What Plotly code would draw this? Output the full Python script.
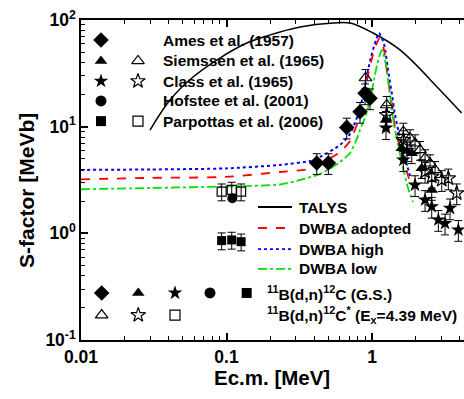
import numpy as np
import plotly.graph_objects as go

# ---------------- data ----------------
talys_E = [0.0298, 0.0409, 0.0589, 0.090, 0.138, 0.190, 0.320, 0.540, 0.706, 1.016, 1.556, 2.93, 4.13]
talys_S = [9.3, 17.8, 29.2, 44.0, 60.8, 71.0, 86.0, 93.7, 93.7, 75.5, 52.4, 22.1, 13.4]

adopt_E = [0.01, 0.0298, 0.099, 0.233, 0.375, 0.439, 0.603, 0.706, 0.801, 0.854, 0.924, 0.984, 1.065, 1.135,
           1.209, 1.288, 1.373, 1.439, 1.557, 1.686, 1.825]
adopt_S = [3.21, 3.31, 3.38, 3.76, 4.02, 4.47, 5.79, 7.35, 11.1, 15.6, 27.4, 40.4, 58.4, 67.8,
           52.4, 27.4, 16.0, 9.73, 6.31, 4.29, 3.03]

high_E = [0.01, 0.0298, 0.099, 0.233, 0.375, 0.439, 0.603, 0.706, 0.801, 0.854, 0.924, 0.984, 1.065, 1.117,
          1.209, 1.288, 1.373, 1.439, 1.557, 1.686, 1.825]
high_S = [3.93, 3.97, 4.06, 4.38, 4.77, 5.20, 6.74, 8.55, 12.9, 17.8, 30.5, 45.0, 64.9, 75.5,
          59.6, 34.0, 19.8, 12.9, 7.83, 5.08, 3.45]

low_E = [0.01, 0.0298, 0.099, 0.233, 0.320, 0.439, 0.603, 0.706, 0.776, 0.827, 0.909, 0.969, 1.032, 1.082,
         1.135, 1.171, 1.228, 1.288, 1.329, 1.394, 1.485, 1.634, 1.768, 1.913]
low_S = [2.59, 2.66, 2.75, 2.87, 3.17, 3.60, 4.67, 5.67, 7.35, 9.31, 12.9, 17.8, 27.4, 37.9,
         48.0, 52.4, 42.2, 27.4, 19.8, 12.1, 7.51, 4.11, 2.66, 1.97]

ames_E = [0.417, 0.501, 0.670, 0.827, 0.895, 0.969]
ames_S = [4.57, 4.57, 9.84, 13.8, 20.6, 18.5]

siem_gs_E = [1.248, 1.600, 1.74, 1.875, 2.196, 2.572]
siem_gs_S = [11.56, 6.28, 5.9, 5.63, 4.08, 2.55]
siem_ex_E = [0.902, 1.262, 1.641, 1.825, 1.975, 2.138, 2.314, 2.504, 2.710]
siem_ex_S = [28.6, 15.97, 8.98, 7.79, 6.99, 6.05, 5.06, 4.54, 3.93]

class_gs_E = [1.248, 1.641, 1.975, 2.314, 2.572, 2.856, 3.175, 3.436, 3.919]
class_gs_S = [9.72, 4.87, 2.84, 2.06, 1.78, 1.34, 1.24, 1.72, 1.08]
class_ex_E = [1.262, 1.641, 2.314, 2.572, 3.013, 3.345, 3.820]
class_ex_S = [12.9, 7.51, 3.79, 3.40, 3.17, 3.28, 2.38]

hof_E = [0.1096]
hof_S = [2.13]

parp_gs_E = [0.0926, 0.1086, 0.126]
parp_gs_S = [0.855, 0.867, 0.835]
parp_ex_E = [0.0926, 0.1086, 0.126]
parp_ex_S = [2.46, 2.55, 2.46]

rel_err = {"ames": 0.22, "siem": 0.2, "class": 0.22, "parp": 0.18}

ref_names = ["Ames et al. (1957)", "Siemssen et al. (1965)", "Class et al. (1965)",
             "Hofstee et al. (2001)", "Parpottas et al. (2006)"]
curve_names = ["TALYS", "DWBA adopted", "DWBA high", "DWBA low"]

x_tickvals = [0.01, 0.1, 1]
x_ticktext = ["0.01", "0.1", "1"]
y_tickvals = [0.1, 1, 10, 100]
y_ticktext = ["10<sup>-1</sup>", "10<sup>0</sup>", "10<sup>1</sup>", "10<sup>2</sup>"]

# ---------------- figure ----------------
fig = go.Figure()

def err(S, r):
    S = np.asarray(S)
    return dict(type="data", array=S * r, arrayminus=S * r, color="black", thickness=1, width=4)

lw = 1.8
fig.add_trace(go.Scatter(x=talys_E, y=talys_S, mode="lines", line=dict(color="black", width=1.5, shape="spline")))
fig.add_trace(go.Scatter(x=high_E, y=high_S, mode="lines", line=dict(color="#0000FF", width=2, dash="dot", shape="spline", smoothing=0.6)))
fig.add_trace(go.Scatter(x=adopt_E, y=adopt_S, mode="lines", line=dict(color="#FF0000", width=lw, dash="dash", shape="spline", smoothing=0.6)))
fig.add_trace(go.Scatter(x=low_E, y=low_S, mode="lines", line=dict(color="#00E000", width=lw, dash="dashdot", shape="spline", smoothing=0.6)))

def pts(E, S, sym, size, r, open_=False):
    mk = dict(symbol=sym, size=size, color="black")
    if open_:
        mk["line"] = dict(color="black", width=1.2)
    fig.add_trace(go.Scatter(x=E, y=S, mode="markers", marker=mk, error_y=err(S, r)))

pts(ames_E, ames_S, "diamond", 12, rel_err["ames"])
pts(siem_ex_E, siem_ex_S, "triangle-up-open", 11, rel_err["siem"], True)
pts(class_ex_E, class_ex_S, "star-open", 11, rel_err["class"], True)
pts(siem_gs_E, siem_gs_S, "triangle-up", 11, rel_err["siem"])
pts(class_gs_E, class_gs_S, "star", 11, rel_err["class"])
pts(parp_ex_E, parp_ex_S, "square-open", 9, rel_err["parp"], True)
pts(parp_gs_E, parp_gs_S, "square", 9, rel_err["parp"])
pts(hof_E, hof_S, "circle", 10, 0.0)

# ---------------- legends (in plot-fraction coordinates) ----------------
def leg_marker(x, y, sym, size, open_=False):
    mk = dict(symbol=sym, size=size, color="black")
    if open_:
        mk["line"] = dict(color="black", width=1.2)
    fig.add_trace(go.Scatter(x=[x], y=[y], mode="markers", marker=mk, xaxis="x2", yaxis="y2", cliponaxis=False))

col_f, col_o = 0.0522, 0.1488
rows = [0.9375, 0.872, 0.809, 0.747, 0.684]
leg_marker(col_f, rows[0], "diamond", 12)
leg_marker(col_f, rows[1], "triangle-up", 11)
leg_marker(col_o, rows[1], "triangle-up-open", 11, True)
leg_marker(col_f, rows[2], "star", 11)
leg_marker(col_o, rows[2], "star-open", 11, True)
leg_marker(col_f, rows[3], "circle", 11)
leg_marker(col_f, rows[4], "square", 10)
leg_marker(col_o, rows[4], "square-open", 10, True)
tfs = 15.5
for name, yy in zip(ref_names, rows):
    fig.add_annotation(x=0.209, y=yy, xref="paper", yref="paper", text=name, showarrow=False,
                       xanchor="left", yanchor="middle", font=dict(size=tfs))

curve_styles = [("black", "solid"), ("#FF0000", "dash"), ("#0000FF", "dot"), ("#00E000", "dashdot")]
curve_rows = [0.4156, 0.35, 0.284, 0.222]
for name, (c, d), yy in zip(curve_names, curve_styles, curve_rows):
    fig.add_shape(type="line", xref="paper", yref="paper", x0=0.462, x1=0.551, y0=yy, y1=yy,
                  line=dict(color=c, dash=d, width=1.8))
    fig.add_annotation(x=0.564, y=yy, xref="paper", yref="paper", text=name, showarrow=False,
                       xanchor="left", yanchor="middle", font=dict(size=tfs))

r1, r2 = 0.147, 0.078
leg_marker(0.054, r1, "diamond", 12)
leg_marker(0.1495, r1, "triangle-up", 11)
leg_marker(0.2454, r1, "star", 11)
leg_marker(0.3368, r1, "circle", 11)
leg_marker(0.4326, r1, "square", 10)
leg_marker(0.054, r2, "triangle-up-open", 11, True)
leg_marker(0.1495, r2, "star-open", 11, True)
leg_marker(0.2454, r2, "square-open", 10, True)
fig.add_annotation(x=0.480, y=r1, xref="paper", yref="paper",
                   text="<sup>11</sup>B(d,n)<sup>12</sup>C (G.S.)", showarrow=False,
                   xanchor="left", yanchor="middle", font=dict(size=tfs))
fig.add_annotation(x=0.480, y=r2, xref="paper", yref="paper",
                   text="<sup>11</sup>B(d,n)<sup>12</sup>C<sup>*</sup> (E<sub>x</sub>=4.39 MeV)", showarrow=False,
                   xanchor="left", yanchor="middle", font=dict(size=tfs))

# axis titles
fig.add_annotation(x=-0.141, y=0.469, xref="paper", yref="paper", text="S-factor [MeVb]",
                   textangle=-90, showarrow=False, xanchor="center", yanchor="middle", font=dict(size=21))
fig.add_annotation(x=0.498, y=-0.116, xref="paper", yref="paper", text="Ec.m. [MeV]",
                   showarrow=False, xanchor="center", yanchor="middle", font=dict(size=20.5))

x_minor = [m * 10.0 ** k for k in (-2, -1) for m in range(2, 10)] + [2, 3, 4]
y_minor = [m * 10.0 ** k for k in (-1, 0, 1) for m in range(2, 10)]

fig.update_layout(
    width=464, height=399,
    margin=dict(l=81, r=0, t=20, b=59),
    plot_bgcolor="white", paper_bgcolor="white",
    showlegend=False,
    font=dict(family="Liberation Sans, Arial, sans-serif", size=17.5, color="black", weight="bold"),
    xaxis=dict(type="log", range=[-2, 0.632], showline=True, linecolor="black", linewidth=1.5,
               mirror="ticks", ticks="inside", ticklen=7, tickwidth=1.5, tickcolor="black",
               tickvals=x_tickvals, ticktext=x_ticktext, showgrid=False, zeroline=False,
               minor=dict(tickvals=x_minor, ticks="inside", ticklen=4, tickwidth=1.2, tickcolor="black", showgrid=False)),
    yaxis=dict(type="log", range=[-1, 2], showline=True, linecolor="black", linewidth=1.5,
               mirror=False, ticks="inside", ticklen=7, tickwidth=1.5, tickcolor="black",
               tickvals=y_tickvals, ticktext=y_ticktext, showgrid=False, zeroline=False,
               minor=dict(tickvals=y_minor, ticks="inside", ticklen=4, tickwidth=1.2, tickcolor="black", showgrid=False)),
    xaxis2=dict(domain=[0, 1], range=[0, 1], overlaying="x", anchor="y2", visible=False, fixedrange=True),
    yaxis2=dict(domain=[0, 1], range=[0, 1], overlaying="y", anchor="x2", visible=False, fixedrange=True),
)

fig.write_html("out.html")
